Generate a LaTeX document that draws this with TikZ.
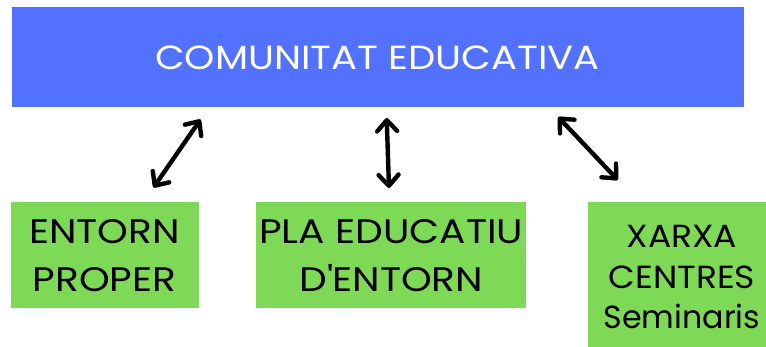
\documentclass[tikz,border=0pt]{standalone}
\usepackage{fontspec}
\setmainfont{Poppins}[FakeStretch=1.15]
\newfontfamily\midfont{Poppins}[FakeStretch=1.08]
\newfontfamily\lowerfont{Poppins}[FakeStretch=0.99]
\usetikzlibrary{arrows.meta}
\definecolor{topblue}{HTML}{5271FF}
\definecolor{boxgreen}{HTML}{7ED957}
\tikzset{
  topbox/.style={fill=topblue, draw=none, text=white, inner sep=0pt,
    minimum width=732pt, minimum height=100pt,
    font=\fontsize{33.5}{40}\selectfont},
  greenbox/.style={fill=boxgreen, draw=none, text=black, inner sep=0pt, align=center,
    font=\fontsize{34}{48}\selectfont},
  link/.style={line width=4.4pt, line cap=round, {Straight Barb[length=11pt,width=20pt,round]}-{Straight Barb[length=11pt,width=20pt,round]}}
}
\begin{document}
\begin{tikzpicture}[x=1pt,y=-1pt]
  \useasboundingbox (0,0) rectangle (766,347);
  \node[topbox] (top) at (377.5,57.5) {COMUNITAT EDUCATIVA};
  \node[greenbox, minimum width=188pt, minimum height=106pt] (entorn) at (104.5,255.3) {ENTORN\\PROPER};
  \node[greenbox, minimum width=270pt, minimum height=106pt] (pla) at (391.3,255.3) {PLA EDUCATIU\\D\textquotesingle ENTORN};
  \node[greenbox, minimum width=188pt, minimum height=150pt, font=\midfont\fontsize{32}{40.5}\selectfont] (xarxa) at (682,277) {XARXA\\CENTRES\\{\lowerfont\fontsize{32}{40}\selectfont Seminaris}};
  \coordinate (a1b) at (153.5,187.5);
  \coordinate (a1t) at (200.5,119.5);
  \coordinate (a2t) at (386.7,118);
  \coordinate (a2b) at (389,188);
  \coordinate (a3t) at (558.2,117);
  \coordinate (a3b) at (617.8,180);
  \draw[link] (a1b) -- (a1t);
  \draw[link] (a2t) -- (a2b);
  \draw[link] (a3t) -- (a3b);
\end{tikzpicture}
\end{document}
